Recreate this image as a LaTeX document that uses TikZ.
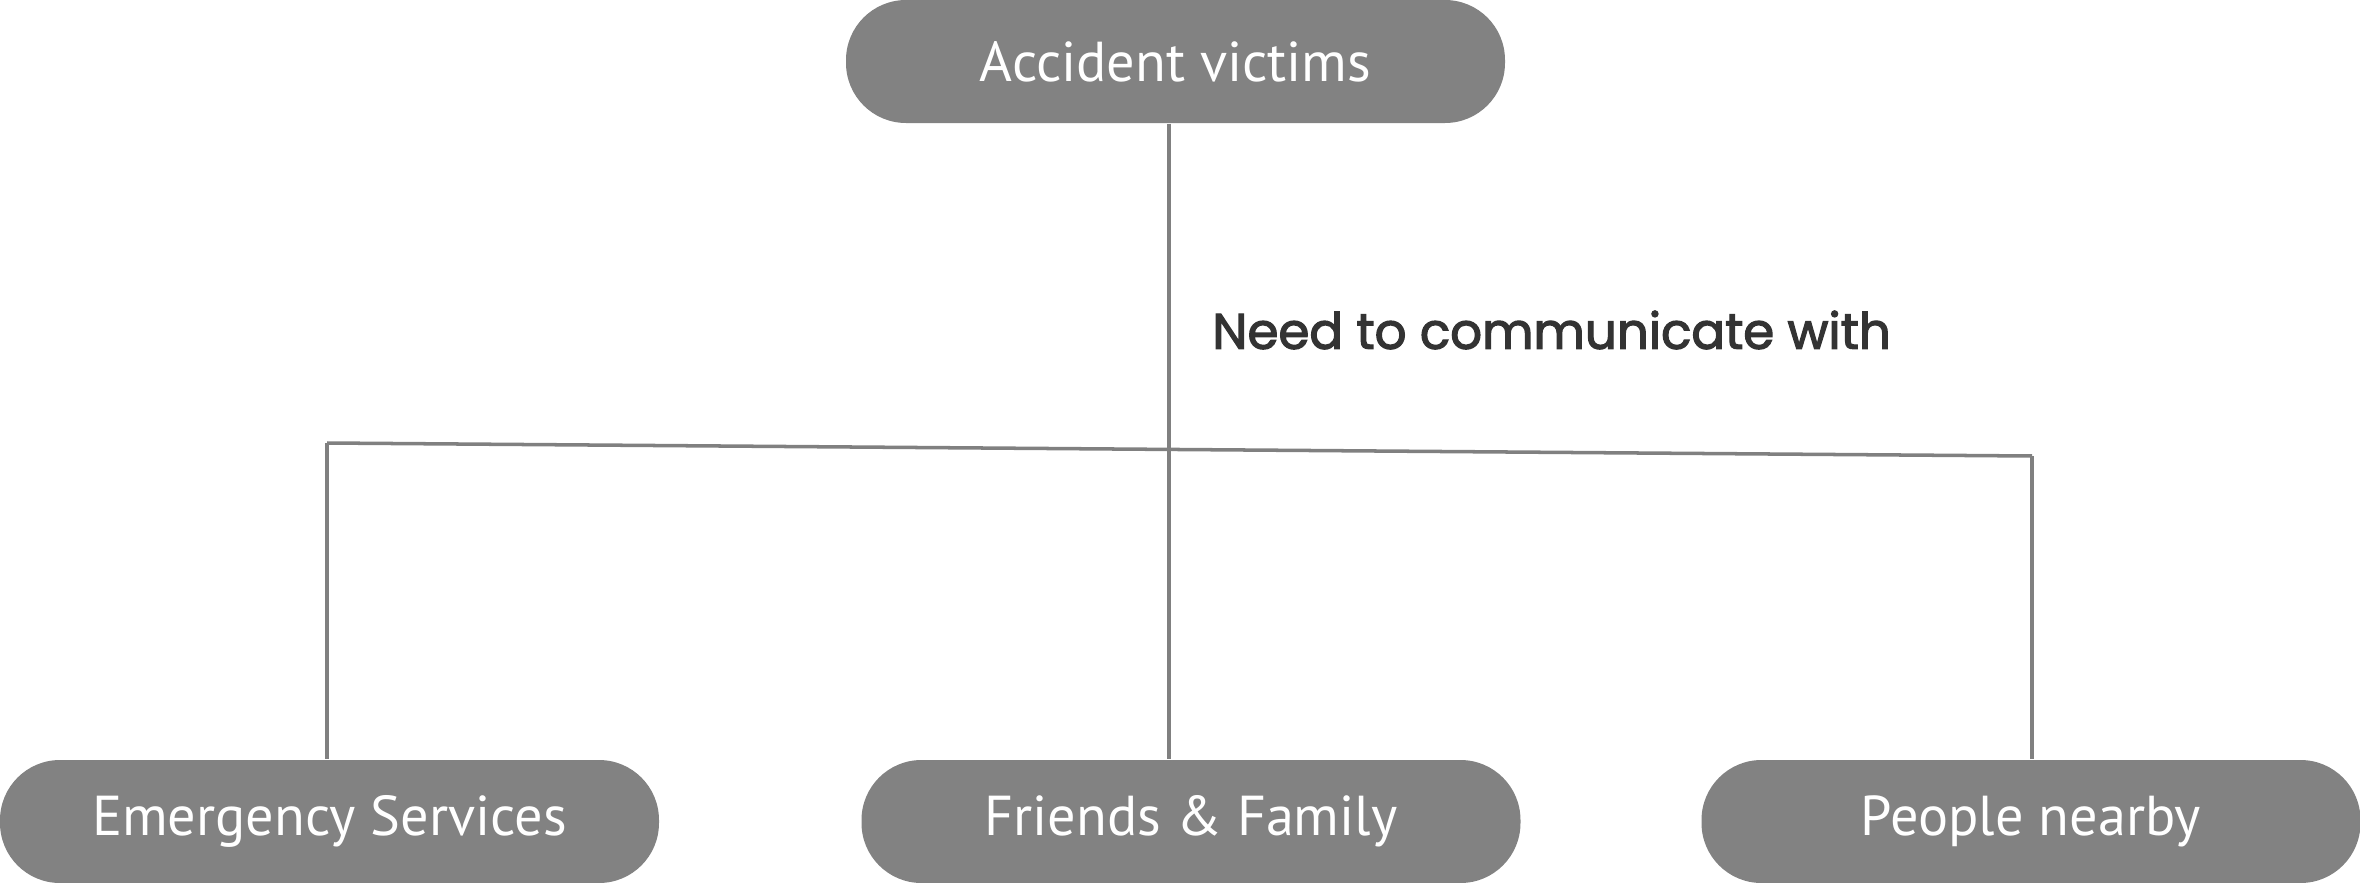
\documentclass[tikz,border=0pt]{standalone}
\usepackage{fontspec}
\setmainfont{PT Sans}
\newfontfamily\labelfont[FakeBold=2.5]{Poppins}
\usetikzlibrary{positioning}
\definecolor{pillgray}{RGB}{130,130,130}
\definecolor{linegray}{RGB}{128,128,128}
\definecolor{labelgray}{RGB}{51,51,51}
\begin{document}
\begin{tikzpicture}[
    every node/.style={align=center},
    pill/.style={rectangle, fill=pillgray, text=white, rounded corners=0.6cm, minimum width=6.59cm, minimum height=1.23cm, inner sep=0pt, font=\fontsize{16}{19}\selectfont},
    link/.style={draw=linegray, line width=1pt}
]
\useasboundingbox (0,0) rectangle (23.6,-8.83);
\node[pill] (victims) at (11.755, -0.615) {Accident victims};
\node[pill] (emerg)   at (3.295, -8.215)  {Emergency Services};
\node[pill] (family)  at (11.91, -8.215)  {Friends \& Family};
\node[pill] (nearby)  at (20.31, -8.215)  {People nearby};
% bus line between the branches
\coordinate (busL) at (3.27, -4.43);
\coordinate (busM) at (11.69, -4.495);
\coordinate (busR) at (20.32, -4.56);
\draw[link] (busM |- victims.south) -- (busM) -- (busM |- family.north);
\draw[link] (busL) -- (busR);
\draw[link] (busL) -- (busL |- emerg.north);
\draw[link] (busR) -- (busR |- nearby.north);
\node[font=\labelfont\fontsize{14.2}{17}\selectfont, text=labelgray, anchor=west] (need) at (12.0, -3.30) {Need to communicate with};
\end{tikzpicture}
\end{document}
